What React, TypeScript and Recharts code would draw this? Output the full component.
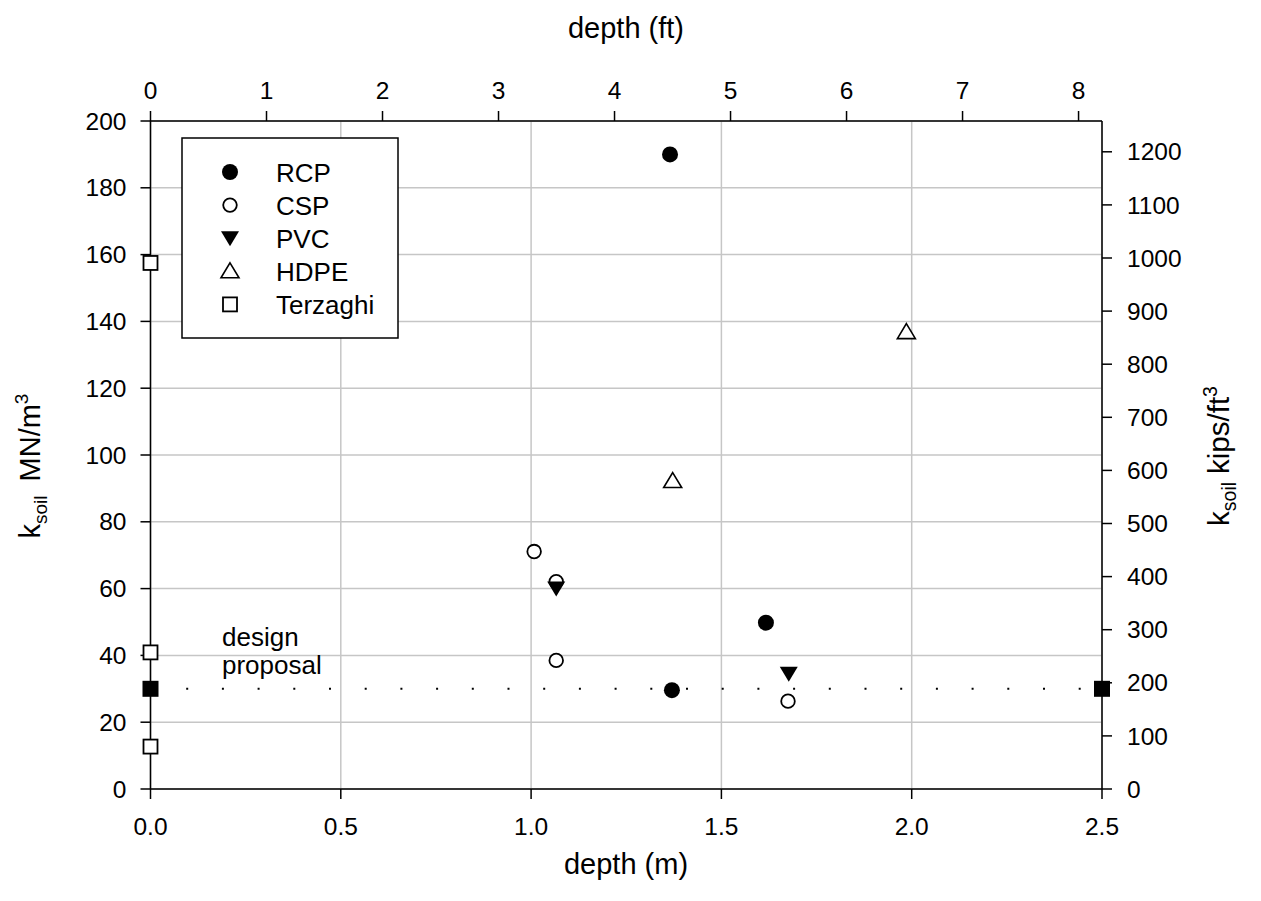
import React from 'react';
import { CartesianGrid, ReferenceLine, Scatter, ScatterChart, XAxis, YAxis } from 'recharts';

// depth in metres, k_soil in MN/m^3
const rcpDepth = [1.365, 1.617, 1.37];
const rcpK = [190, 49.8, 29.6];
const cspDepth = [1.008, 1.066, 1.066, 1.675];
const cspK = [71.1, 62.1, 38.5, 26.3];
const pvcDepth = [1.066, 1.677];
const pvcK = [60, 34.5];
const hdpeDepth = [1.372, 1.986];
const hdpeK = [92.2, 136.8];
const terzaghiDepth = [0, 0, 0];
const terzaghiK = [157.5, 40.9, 12.7];
const designDepth = [0, 2.5];
const designK = [30, 30];

const mTicks = [0, 0.5, 1, 1.5, 2, 2.5];
const ftTicks = [0, 1, 2, 3, 4, 5, 6, 7, 8];
const mnTicks = [0, 20, 40, 60, 80, 100, 120, 140, 160, 180, 200];
const kipsTicks = [0, 100, 200, 300, 400, 500, 600, 700, 800, 900, 1000, 1100, 1200];

const legendNames = ['RCP', 'CSP', 'PVC', 'HDPE', 'Terzaghi'];

const FT = 0.3048; // metres per foot, places the top-axis ticks on the metre scale

const toPoints = (xs: number[], ys: number[]) => xs.map((x, i) => ({ x, y: ys[i] }));

const FONT = '"Liberation Sans", Arial, Helvetica, sans-serif';

const FilledCircle = ({ cx, cy }: any) => <circle cx={cx} cy={cy} r={8} fill="#000" />;
const OpenCircle = ({ cx, cy }: any) => (
  <circle cx={cx} cy={cy} r={6.8} fill="#fff" stroke="#000" strokeWidth={1.8} />
);
const DownTriangle = ({ cx, cy }: any) => (
  <polygon points={`${cx - 9},${cy - 7} ${cx + 9},${cy - 7} ${cx},${cy + 8}`} fill="#000" />
);
const UpTriangle = ({ cx, cy }: any) => (
  <polygon
    points={`${cx},${cy - 8.5} ${cx + 9},${cy + 6.5} ${cx - 9},${cy + 6.5}`}
    fill="#fff"
    stroke="#000"
    strokeWidth={1.6}
  />
);
const OpenSquare = ({ cx, cy }: any) => (
  <rect x={cx - 7} y={cy - 7} width={14} height={14} fill="#fff" stroke="#000" strokeWidth={1.8} />
);
const FilledSquare = ({ cx, cy }: any) => (
  <rect x={cx - 8} y={cy - 8} width={16} height={16} fill="#000" />
);
const NoMark = () => <g />;

const legendShapes = [FilledCircle, OpenCircle, DownTriangle, UpTriangle, OpenSquare];

const tickStyle = { fill: '#000', fontSize: 24.5, fontFamily: FONT };
const axisLine = { stroke: '#000', strokeWidth: 1.5 };

const App = () => {
  return (
    <div style={{ position: 'relative', width: 1245, height: 885, fontFamily: FONT }}>
      <ScatterChart width={1245} height={885} margin={{ top: 0, right: 0, bottom: 0, left: 0 }}>
        <CartesianGrid xAxisId="m" yAxisId="mn" stroke="#c6c6c6" strokeWidth={1.5} />
        <XAxis
          xAxisId="m"
          dataKey="x"
          type="number"
          orientation="bottom"
          height={104}
          domain={[0, 2.5]}
          ticks={mTicks}
          tickFormatter={(v: number) => v.toFixed(1)}
          tick={tickStyle}
          tickSize={10}
          tickMargin={19}
          axisLine={axisLine}
          tickLine={axisLine}
        />
        <XAxis
          xAxisId="ft"
          dataKey="x"
          type="number"
          orientation="top"
          height={113}
          domain={[0, 2.5]}
          ticks={ftTicks.map((f) => f * FT)}
          tickFormatter={(v: number) => String(Math.round(v / FT))}
          tick={tickStyle}
          tickSize={10}
          tickMargin={12}
          axisLine={axisLine}
          tickLine={axisLine}
        />
        <YAxis
          yAxisId="mn"
          dataKey="y"
          type="number"
          orientation="left"
          width={142.5}
          domain={[0, 200]}
          ticks={mnTicks}
          tick={tickStyle}
          tickSize={10}
          tickMargin={14}
          axisLine={axisLine}
          tickLine={axisLine}
        />
        <YAxis
          yAxisId="kips"
          type="number"
          orientation="right"
          width={151}
          domain={[0, 1258]}
          ticks={kipsTicks}
          tick={tickStyle}
          tickSize={10}
          tickMargin={15}
          axisLine={axisLine}
          tickLine={axisLine}
          allowDataOverflow
        />
        <ReferenceLine
          xAxisId="m"
          yAxisId="mn"
          y={designK[0]}
          stroke="#000"
          strokeWidth={2}
          strokeDasharray="2 33.7"
        />
        {/* carries the top (ft) axis, draws nothing */}
        <Scatter xAxisId="ft" yAxisId="mn" name="ft-axis" data={toPoints(designDepth, designK)} shape={NoMark} legendType="none" isAnimationActive={false} />
        <Scatter xAxisId="m" yAxisId="mn" name="Design" data={toPoints(designDepth, designK)} shape={FilledSquare} isAnimationActive={false} />
        <Scatter xAxisId="m" yAxisId="mn" name="Terzaghi" data={toPoints(terzaghiDepth, terzaghiK)} shape={OpenSquare} isAnimationActive={false} />
        <Scatter xAxisId="m" yAxisId="mn" name="HDPE" data={toPoints(hdpeDepth, hdpeK)} shape={UpTriangle} isAnimationActive={false} />
        <Scatter xAxisId="m" yAxisId="mn" name="CSP" data={toPoints(cspDepth, cspK)} shape={OpenCircle} isAnimationActive={false} />
        <Scatter xAxisId="m" yAxisId="mn" name="PVC" data={toPoints(pvcDepth, pvcK)} shape={DownTriangle} isAnimationActive={false} />
        <Scatter xAxisId="m" yAxisId="mn" name="RCP" data={toPoints(rcpDepth, rcpK)} shape={FilledCircle} isAnimationActive={false} />
      </ScatterChart>

      <svg
        width={1245}
        height={885}
        style={{ position: 'absolute', left: 0, top: 0, pointerEvents: 'none', fontFamily: FONT }}
      >
        {/* axis titles */}
        <text x={618} y={30} textAnchor="middle" fontSize={29} fill="#000">depth (ft)</text>
        <text x={618} y={866} textAnchor="middle" fontSize={29} fill="#000">depth (m)</text>
        <text x={32} y={458} transform="rotate(-90 32 458)" textAnchor="middle" fontSize={29} fill="#000">
          k<tspan fontSize={19} dy={7}>soil</tspan>
          <tspan dy={-7} dx={14}>MN/m</tspan>
          <tspan fontSize={19} dy={-12}>3</tspan>
        </text>
        <text x={1221} y={448} transform="rotate(-90 1221 448)" textAnchor="middle" fontSize={29.5} fill="#000">
          k<tspan fontSize={19.5} dy={7}>soil</tspan>
          <tspan dy={-7} dx={8}>kips/ft</tspan>
          <tspan fontSize={19.5} dy={-12}>3</tspan>
        </text>

        {/* annotation */}
        <text x={214} y={638} fontSize={26} fill="#000">design</text>
        <text x={214} y={666} fontSize={26} fill="#000">proposal</text>

        {/* legend */}
        <rect x={174} y={130} width={216} height={200} fill="#fff" stroke="#000" strokeWidth={1.5} />
        {legendNames.map((name, i) => {
          const Shape = legendShapes[i];
          const cy = 164 + i * 33.1;
          return (
            <g key={name}>
              <Shape cx={222} cy={cy} />
              <text x={268} y={cy + 9.5} fontSize={26} fill="#000">{name}</text>
            </g>
          );
        })}
      </svg>
    </div>
  );
};

export default App;
